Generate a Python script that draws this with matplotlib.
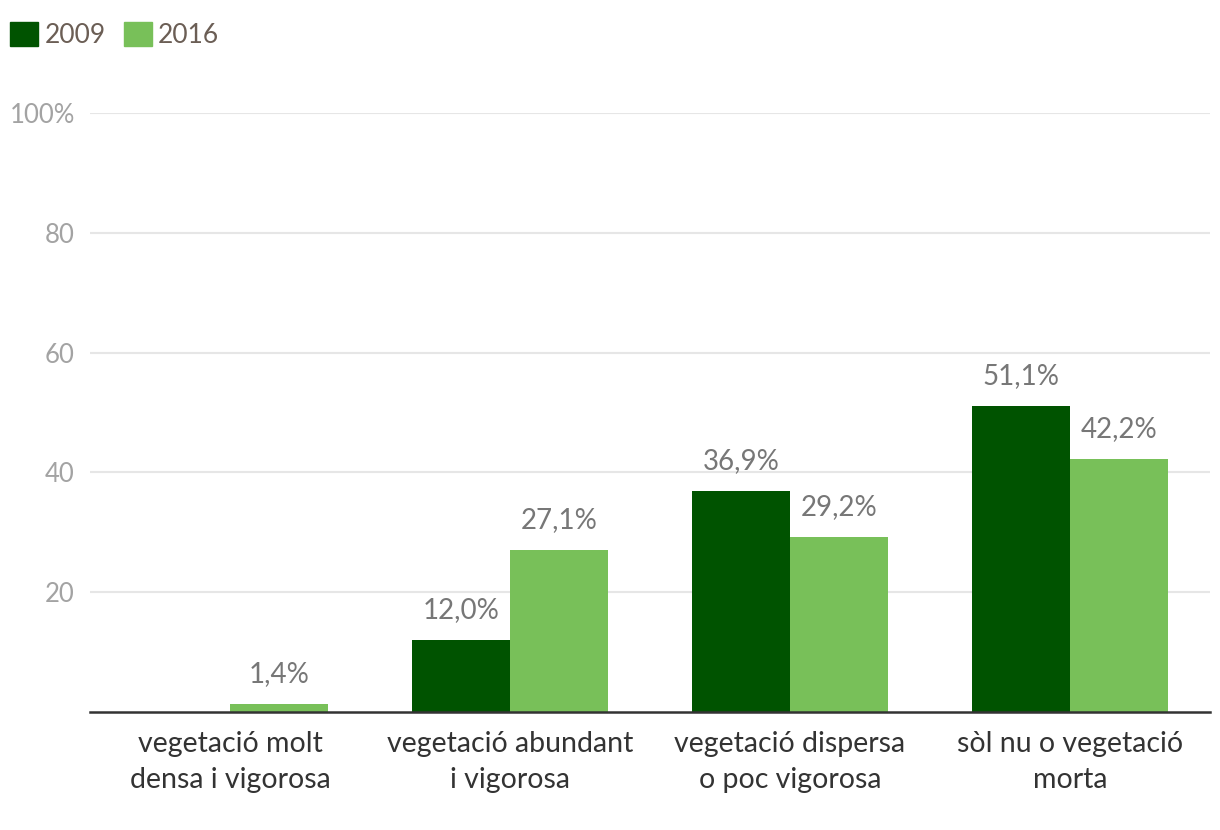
import numpy as np
import matplotlib.pyplot as plt
from matplotlib.patches import Patch

# data
categories = ["vegetació molt\ndensa i vigorosa", "vegetació abundant\ni vigorosa",
              "vegetació dispersa\no poc vigorosa", "sòl nu o vegetació\nmorta"]
years = ["2009", "2016"]
values_2009 = [0.0, 12.0, 36.9, 51.1]
values_2016 = [1.4, 27.1, 29.2, 42.2]
yticks = [20, 40, 60, 80, 100]
ytick_labels = ["20", "40", "60", "80", "100%"]

dark_green = "#005300"
light_green = "#78c059"

plt.rcParams['font.family'] = ['Lato', 'DejaVu Sans']

fig = plt.figure(figsize=(12.2, 8.3), dpi=100)
ax = fig.add_axes([0.0738, 0.1422, 0.918, 0.7217])

x = np.arange(len(categories))
w = 0.35
bars1 = ax.bar(x - w / 2, values_2009, w, color=dark_green, zorder=3)
bars2 = ax.bar(x + w / 2, values_2016, w, color=light_green, zorder=3)

# value labels (no label for empty 2009 bar)
for bars, vals in [(bars1, values_2009), (bars2, values_2016)]:
    for b, v in zip(bars, vals):
        if v <= 0:
            continue
        ax.annotate(f"{v:.1f}%".replace(".", ","), (b.get_x() + b.get_width() / 2, v),
                    xytext=(0, 12), textcoords="offset points",
                    ha="center", va="bottom", fontsize=20, color="#777777")

ax.set_xlim(-0.5, len(categories) - 0.5)
ax.set_ylim(0, 100)
ax.set_yticks(yticks)
ax.set_yticklabels(ytick_labels)
ax.set_xticks(x)
ax.set_xticklabels(categories, linespacing=1.45)
ax.tick_params(axis="y", length=0, labelsize=18.5, labelcolor="#a3a3a3", pad=11)
ax.tick_params(axis="x", length=0, labelsize=20.5, labelcolor="#333333", pad=14)
ax.grid(axis="y", color="#e6e6e6", linewidth=1.5, zorder=0)
for s in ["top", "right", "left"]:
    ax.spines[s].set_visible(False)
ax.spines["bottom"].set_color("#333333")
ax.spines["bottom"].set_linewidth(1.8)
ax.spines["bottom"].set_zorder(4)

handles = [Patch(color=dark_green), Patch(color=light_green)]
fig.legend(handles, years, loc="upper left", bbox_to_anchor=(10 / 1220, 1 - 22 / 830), ncol=2,
           frameon=False, fontsize=19, labelcolor="#6b5e55",
           handlelength=1.05, handleheight=1.05, handletextpad=0.25, columnspacing=0.7,
           borderpad=0, borderaxespad=0)

fig.savefig("out.png", dpi=100)
